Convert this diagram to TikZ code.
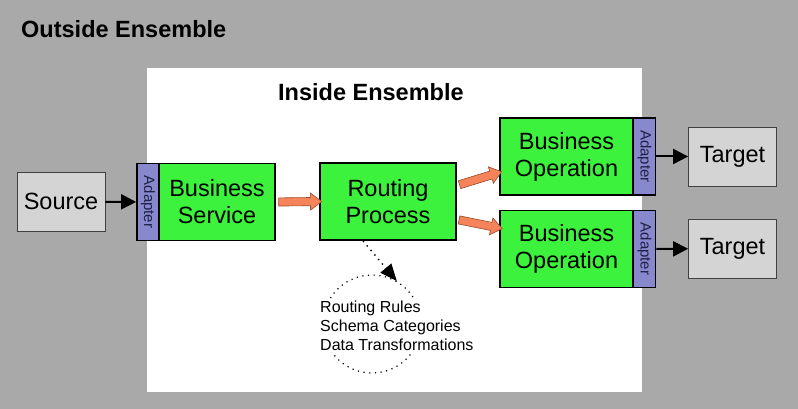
\documentclass[tikz,border=0pt]{standalone}
\usepackage{fontspec}
\setmainfont{Liberation Sans}
\usetikzlibrary{arrows.meta, shapes.arrows}
\definecolor{cbg}{HTML}{A9A9A9}
\definecolor{cext}{HTML}{D4D4D4}
\definecolor{cbiz}{HTML}{3CF23C}
\definecolor{cadp}{HTML}{8888CC}
\definecolor{cadptxt}{HTML}{202048}
\definecolor{cpipe}{HTML}{F5845A}
\definecolor{cpipeln}{HTML}{9A4A2A}

\begin{document}
\begin{tikzpicture}[x=1pt, y=-1pt,
  comp/.style={draw=black, line width=1.8pt, fill=cbiz, inner sep=0pt,
               minimum width=#1, minimum height=77pt, align=center,
               font=\fontsize{23.5}{27}\selectfont},
  adapter/.style={draw=black, line width=1.8pt, fill=cadp, inner sep=0pt,
                  minimum width=77pt, minimum height=22pt, rotate=-90,
                  text=cadptxt, font=\fontsize{15}{16}\selectfont},
  ext/.style={draw=black!75, line width=0.8pt, fill=cext, inner sep=0pt,
              minimum width=88pt, minimum height=59pt,
              font=\fontsize{23.5}{26}\selectfont},
  hdr/.style={font=\fontsize{23.5}{26}\selectfont\bfseries, inner sep=0pt},
  arr/.style={-{Triangle[length=15pt, width=15pt]}, line width=2pt, black},
  pipe/.style={single arrow, draw=cpipeln, fill=cpipe, line width=0.6pt,
               minimum height=#1, inner sep=3.8pt, single arrow head extend=4.5pt,
               single arrow tip angle=75, sloped},
  dotarr/.style={line width=1.4pt, dash pattern=on 1.4pt off 4.5pt,
                 -{Triangle[length=17pt, width=14pt]}},
  rules/.style={fill=white, inner sep=1pt, align=left,
                font=\fontsize{16}{19}\selectfont}
]
\useasboundingbox (0,0) rectangle (798,409);

%% Ensembles
\fill[cbg]   (0,0)    rectangle (798,409);
\fill[white] (147,68) rectangle (642,392);
\node[hdr, anchor=base west] (outlbl) at (21,38)  {Outside Ensemble};
\node[hdr, anchor=base west] (inlbl)  at (278,101) {Inside Ensemble};

%% Source side
\node[ext]         (src) at (61,201.5) {Source};
\node[adapter]     (adl) at (148,202)  {Adapter};
\node[comp=116pt]  (bs)  at (217,202)  {Business\\Service};
\node[comp=136pt]  (rp)  at (388,201.5) {Routing\\Process};

%% Operations and targets
\node[comp=133pt]  (bo1)  at (566.5,156.5) {Business\\Operation};
\node[adapter]     (adr1) at (644.5,156.5) {Adapter};
\node[ext]         (tg1)  at (732.5,156.5) {Target};
\node[comp=133pt]  (bo2)  at (566.5,249)   {Business\\Operation};
\node[adapter]     (adr2) at (644.5,249)   {Adapter};
\node[ext]         (tg2)  at (732.5,248.5) {Target};

%% Connectors
\draw[arr] (src)  -- (adl);
\draw[arr] (adr1) -- (tg1);
\draw[arr] (adr2) -- (tg2);
\path (bs.east) -- (rp.west) node[pipe=43pt, midway] (p1) {};
\path ([yshift=16pt]rp.east) -- ([yshift=-16pt]bo1.west)
  node[pipe=44pt, midway] (p2) {};
\path ([yshift=-18pt]rp.east) -- ([yshift=21pt]bo2.west)
  node[pipe=44pt, midway] (p3) {};

%% Routing rules loop
\node[circle, draw, line width=1.2pt, dash pattern=on 1.2pt off 4.5pt,
      minimum size=98pt] (loop) at (372,324) {};
\draw[dotarr] ([xshift=-25pt]rp.south) -- (loop.60);
\node[rules, anchor=west] (rtext) at (319,326)
  {Routing Rules\\Schema Categories\\Data Transformations};

\end{tikzpicture}
\end{document}
